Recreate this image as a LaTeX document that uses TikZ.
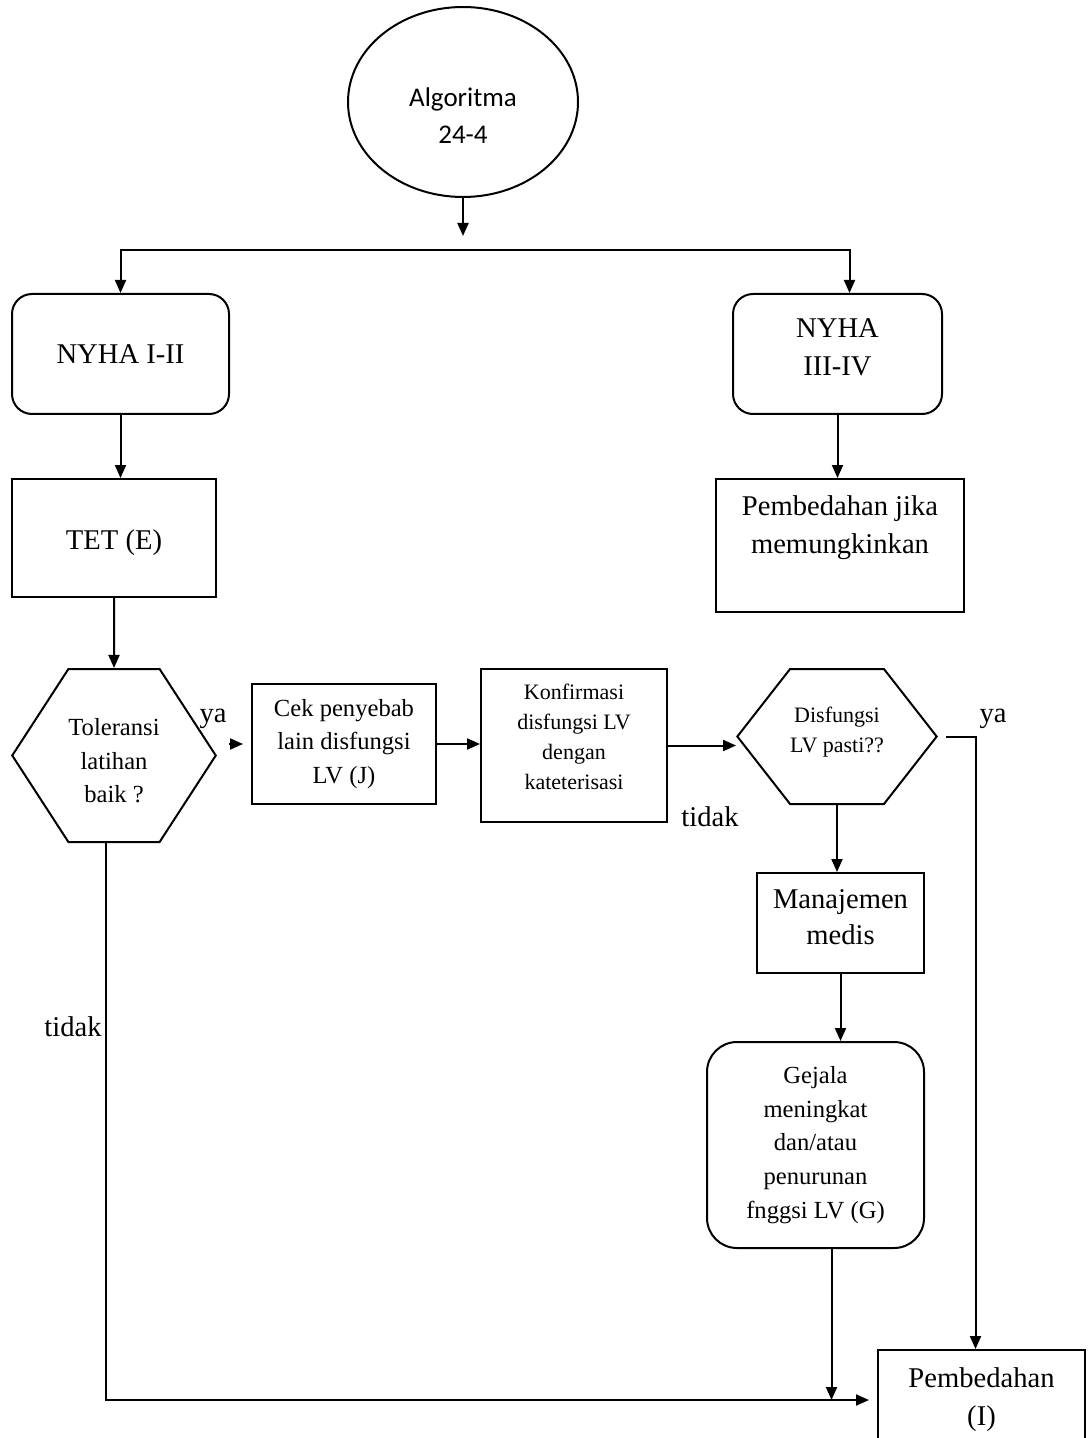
\documentclass[tikz,border=0pt]{standalone}
\usepackage{fontspec}
\setmainfont{Liberation Serif}
\newfontfamily\calib{Carlito}
\usetikzlibrary{positioning, arrows.meta, shapes.geometric, shapes.symbols, calc}

\begin{document}
\begin{tikzpicture}[x=0.5pt, y=-0.5pt, >={Triangle[length=6.5pt,width=5.5pt]}, line width=1pt,
  box/.style={draw, rectangle, align=center, inner sep=2pt},
  rbox/.style={box, rounded corners=10pt},
  hexa/.style={draw, signal, signal to=east and west, align=center, inner xsep=0pt, inner ysep=1pt},
  big/.style={font=\fontsize{14.3}{19}\selectfont},
  mid/.style={font=\fontsize{12.3}{16.8}\selectfont},
  small/.style={font=\fontsize{11}{15}\selectfont}]
  \useasboundingbox (0,0) rectangle (1087,1438);
  % top
  \node[draw, ellipse, minimum width=115pt, minimum height=95pt, align=center, font=\calib\fontsize{13.5}{18.5}\selectfont] (alg) at (463,102) {\mbox{}\\[5pt]Algoritma\\24-4};
  \coordinate (fork) at (463,236);
  \coordinate (bar) at (463,250);
  \node[rbox, big, minimum width=108.5pt, minimum height=60pt] (nyha1) at (120.5,354) {NYHA I-II};
  \node[rbox, big, minimum width=104.5pt, minimum height=60pt] (nyha2) at (837.5,354) {NYHA\\III-IV\\[-12pt]\mbox{}};
  \node[box, big, minimum width=102pt, minimum height=59pt] (tet) at (114,538) {\mbox{}\\[-4pt]TET (E)};
  \node[box, big, minimum width=124pt, minimum height=66.5pt] (pbj) at (840,545.5) {Pembedahan jika\\memungkinkan\\[2pt]\mbox{}};
  % middle row
  \node[hexa, mid, signal pointer angle=114, minimum height=86.5pt] (hex1) at (114,755.5) {\mbox{}\\[-2.8pt]Toleransi\\latihan\\baik ?};
  \node[box, mid, minimum width=92pt, minimum height=60pt] (cek) at (344,744) {Cek penyebab\\lain disfungsi\\LV (J)};
  \node[box, small, minimum width=93pt, minimum height=76.5pt] (konf) at (574,745.5) {Konfirmasi\\disfungsi LV\\dengan\\kateterisasi\\[-6pt]\mbox{}};
  \node[hexa, small, signal pointer angle=104, minimum height=67.5pt] (hex2) at (837,736.5) {Disfungsi\\LV pasti??\\[-8pt]\mbox{}};
  % right column
  \node[box, font=\fontsize{14.3}{18}\selectfont, minimum width=83.5pt, minimum height=50pt] (man) at (840.5,923) {Manajemen\\medis\\[-12pt]\mbox{}};
  \node[box, mid, rounded corners=15pt, minimum width=108.5pt, minimum height=103pt] (gej) at (815.5,1145) {Gejala\\meningkat\\dan/atau\\penurunan\\fnggsi LV (G)};
  \node[box, big, minimum width=103.5pt, minimum height=50pt] (pemb) at (981.5,1400) {Pembedahan\\(I)};
  % labels
  \node[big] (ya1) at (213,719) {ya};
  \node[big] (ya2) at (993,719) {ya};
  \node[big] (tidak1) at (710,817) {tidak};
  \node[big] (tidak2) at (73,1027) {tidak};
  % connectors
  \draw[->] (alg) -- (fork);
  \draw[->] (bar) -| (nyha1);
  \draw[->] (bar) -| ([xshift=6pt]nyha2.north);
  \draw[->] (nyha1.south) -- (nyha1.south |- tet.north);
  \draw[->] (tet) -- (hex1);
  \draw[->] (nyha2.south) -- (nyha2.south |- pbj.north);
  \draw[->, shorten <=6pt, shorten >=4pt] (hex1.east |- cek.west) -- (cek.west);
  \draw[->] (cek.east) -- (cek.east -| konf.west);
  \draw[->] (konf.east) -- (konf.east -| hex2.west);
  \draw[->, shorten <=4pt] (hex2.east) -| ([xshift=-3pt]pemb.north);
  \draw[->] (hex2.south) -- (hex2.south |- man.north);
  \draw[->] (man.south) -- (man.south |- gej.north);
  \draw[->] ([xshift=8pt]gej.south) -- ([xshift=8pt]gej.south |- pemb.west);
  \draw[->, shorten >=4pt] ([xshift=-4pt]hex1.south) |- (pemb.west);
\end{tikzpicture}
\end{document}
